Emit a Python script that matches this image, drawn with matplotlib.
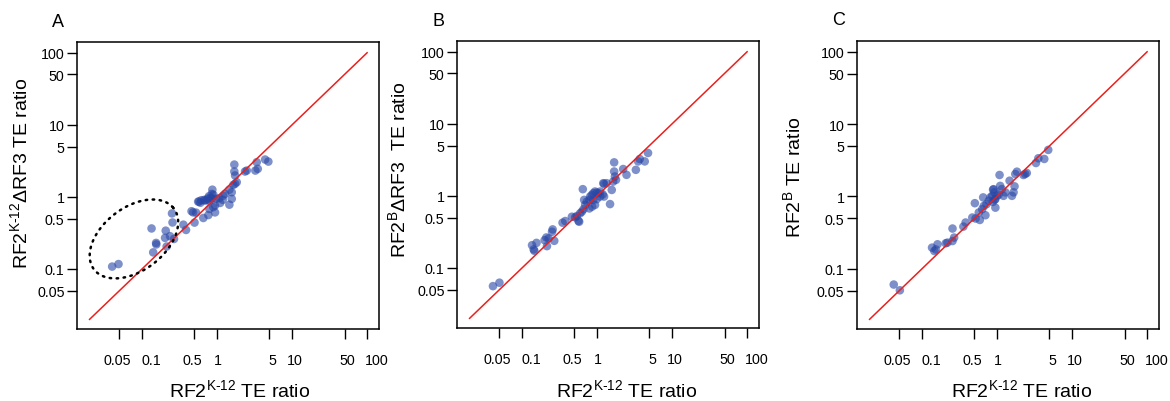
import numpy as np
import matplotlib
matplotlib.use("Agg")
import matplotlib.pyplot as plt
from matplotlib.ticker import NullLocator
from matplotlib.transforms import ScaledTranslation

plt.rcParams['font.family'] = ['Liberation Sans', 'DejaVu Sans']
plt.rcParams['mathtext.fontset'] = 'custom'
plt.rcParams['mathtext.rm'] = 'Liberation Sans'
plt.rcParams['mathtext.it'] = 'Liberation Sans'

# ---------------- data ----------------
tick_values = [0.05, 0.1, 0.5, 1, 5, 10, 50, 100]
tick_labels = ["0.05", "0.1", "0.5", "1", "5", "10", "50", "100"]
identity_range = [0.02, 100]

# Panel A: RF2 K-12 vs RF2 K-12 dRF3
xA = [0.040, 0.0486, 0.134, 0.154, 0.155, 0.141, 0.207, 0.203, 0.236, 0.213,
      0.267, 0.251, 0.255, 0.356, 0.386, 0.457, 0.501, 0.525, 0.575, 0.618,
      0.671, 0.729, 0.789, 0.858, 0.866, 0.893, 0.97, 1.07, 1.19, 1.28,
      1.46, 1.10, 0.94, 0.94, 0.766, 0.656, 0.79, 1.46, 1.57, 1.70,
      1.70, 1.74, 1.83, 1.65, 2.36, 2.49, 3.38, 3.49, 3.24, 4.37,
      4.83, 0.89, 1.21, 1.57, 1.74, 0.85, 0.69, 0.60, 0.75, 0.82,
      0.48, 0.56, 0.78]
yA = [0.108, 0.117, 0.365, 0.230, 0.219, 0.170, 0.340, 0.270, 0.285, 0.205,
      0.261, 0.590, 0.442, 0.412, 0.348, 0.633, 0.440, 0.605, 0.861, 0.90,
      0.908, 0.908, 0.88, 0.96, 1.26, 1.07, 0.94, 0.96, 0.91, 1.10,
      1.26, 0.825, 0.76, 0.61, 0.56, 0.51, 0.68, 0.78, 0.94, 2.81,
      2.25, 1.98, 1.60, 1.47, 2.25, 2.32, 3.03, 2.45, 2.32, 3.30,
      3.09, 0.72, 1.04, 1.16, 1.52, 1.10, 0.89, 0.83, 0.95, 0.97,
      0.61, 0.86, 1.02]

# Panel B: RF2 K-12 vs RF2 B dRF3
xB = [0.041, 0.050, 0.136, 0.143, 0.156, 0.146, 0.200, 0.211, 0.215, 0.226,
      0.251, 0.256, 0.269, 0.347, 0.377, 0.462, 0.511, 0.538, 0.578, 0.595,
      0.627, 0.659, 0.673, 0.646, 0.694, 0.73, 0.79, 0.81, 0.85, 0.89,
      0.94, 0.99, 1.04, 1.10, 0.89, 0.94, 1.24, 1.24, 1.34, 1.49,
      1.57, 1.64, 1.69, 1.69, 1.73, 1.79, 2.23, 2.47, 3.29, 3.53,
      3.71, 4.32, 4.78, 0.79, 0.86, 1.10, 1.19, 0.99, 0.565, 1.21]
yB = [0.056, 0.0625, 0.207, 0.181, 0.223, 0.173, 0.243, 0.265, 0.201, 0.257,
      0.318, 0.343, 0.238, 0.425, 0.448, 0.514, 0.505, 0.526, 0.438, 0.574,
      0.604, 0.652, 0.88, 1.24, 0.75, 0.83, 0.88, 0.98, 1.03, 1.09,
      1.15, 1.11, 1.09, 1.15, 0.88, 0.75, 0.98, 1.47, 1.50, 0.77,
      1.21, 1.58, 2.92, 2.18, 1.86, 1.67, 2.36, 1.96, 2.30, 3.01,
      3.25, 3.01, 3.94, 0.67, 0.71, 0.98, 1.05, 0.90, 0.45, 1.50]

# Panel C: RF2 K-12 vs RF2 B
xC = [0.042, 0.0507, 0.136, 0.146, 0.161, 0.153, 0.207, 0.218, 0.255, 0.268,
      0.255, 0.356, 0.381, 0.468, 0.506, 0.517, 0.589, 0.571, 0.634, 0.653,
      0.70, 0.666, 0.722, 0.775, 0.815, 0.86, 0.885, 0.92, 0.95, 0.95,
      1.0, 1.08, 1.10, 1.16, 1.22, 1.29, 1.47, 1.58, 1.66, 1.71,
      1.75, 1.84, 2.25, 2.49, 3.30, 3.55, 4.26, 4.81, 2.37, 0.90,
      0.88, 0.93, 1.05]
yC = [0.0605, 0.0504, 0.196, 0.176, 0.218, 0.185, 0.225, 0.23, 0.242, 0.27,
      0.36, 0.383, 0.436, 0.511, 0.807, 0.495, 0.473, 0.60, 0.667, 0.97,
      0.55, 0.74, 0.78, 0.87, 0.97, 1.02, 1.24, 1.14, 0.92, 0.70,
      1.02, 1.98, 1.40, 1.26, 1.02, 1.14, 1.65, 1.02, 1.14, 1.38,
      2.04, 2.20, 1.98, 2.11, 2.90, 3.37, 3.30, 4.40, 2.04, 1.26,
      0.84, 0.90, 1.06]

# dotted ellipse highlighting outliers in panel A (log10 space)
ellipse_center = (0.078, 0.261)
ellipse_semi_axes = (0.68, 0.43)   # decades
ellipse_angle_deg = 40

# horizontal nudges (pixels) of the x tick labels as laid out in the original
xtick_label_nudge = [-2.5, 9, -2, 1, 3, 3, 3, 10]

panels = [
    dict(letter="A", x=xA, y=yA,
         ylabel="RF2$^{\\rm K\\text{-}12}$\u0394RF3 TE ratio",
         rect=[77, 43, 302, 287], ylab=(-0.189, 0.544), xlab=(0.54, -0.209)),
    dict(letter="B", x=xB, y=yB,
         ylabel="RF2$^{\\rm B}$\u0394RF3  TE ratio",
         rect=[457, 42, 302, 287], ylab=(-0.195, 0.554), xlab=(0.563, -0.212)),
    dict(letter="C", x=xC, y=yC,
         ylabel="RF2$^{\\rm B}$ TE ratio",
         rect=[857, 42, 302, 288], ylab=(-0.212, 0.531), xlab=(0.546, -0.209)),
]
xlabel = "RF2$^{\\rm K\\text{-}12}$ TE ratio"

W, H = 1170, 402
fig = plt.figure(figsize=(W / 100, H / 100), dpi=100)

point_color = (40 / 255, 70 / 255, 165 / 255)

for p in panels:
    l, t, w, h = p["rect"]
    ax = fig.add_axes([l / W, 1 - (t + h) / H, w / W, h / H])
    ax.set_xscale('log')
    ax.set_yscale('log')
    ax.set_xlim(0.0136, 144)
    ax.set_ylim(0.0147, 141)
    ax.plot(identity_range, identity_range, color='#e8211e', lw=1.1, zorder=3)
    ax.scatter(p["x"], p["y"], s=38, color=point_color, alpha=0.6,
               edgecolors='none', zorder=2)
    ax.set_xticks(tick_values)
    ax.set_xticklabels(tick_labels)
    ax.set_yticks(tick_values)
    ax.set_yticklabels(tick_labels)
    ax.xaxis.set_minor_locator(NullLocator())
    ax.yaxis.set_minor_locator(NullLocator())
    ax.tick_params(axis='both', direction='out', length=7, width=1.0,
                   labelsize=10.3, color='black')
    ax.tick_params(axis='x', pad=10)
    ax.tick_params(axis='y', pad=2)
    for lab, dx in zip(ax.get_xticklabels(), xtick_label_nudge):
        lab.set_transform(lab.get_transform() +
                          ScaledTranslation(dx / 100, 0, fig.dpi_scale_trans))
    for s in ax.spines.values():
        s.set_linewidth(1.1)
    ax.text(p["ylab"][0], p["ylab"][1], p["ylabel"], transform=ax.transAxes,
            rotation=90, ha='center', va='center', fontsize=14)
    ax.text(p["xlab"][0], p["xlab"][1], xlabel, transform=ax.transAxes,
            ha='center', va='center', fontsize=14)
    ax.text(-0.062, 1.073, p["letter"], transform=ax.transAxes,
            ha='center', va='center', fontsize=13)

    if p["letter"] == "A":
        tt = np.linspace(0, 2 * np.pi, 400)
        th = np.deg2rad(ellipse_angle_deg)
        a, b = ellipse_semi_axes
        cx, cy = np.log10(ellipse_center[0]), np.log10(ellipse_center[1])
        lx = cx + a * np.cos(th) * np.cos(tt) - b * np.sin(th) * np.sin(tt)
        ly = cy + a * np.sin(th) * np.cos(tt) + b * np.cos(th) * np.sin(tt)
        ax.plot(10 ** lx, 10 ** ly, color='black', lw=1.8,
                linestyle=(0, (0.6, 2.2)), dash_capstyle='round', zorder=4)

fig.savefig("out.png", dpi=100)
